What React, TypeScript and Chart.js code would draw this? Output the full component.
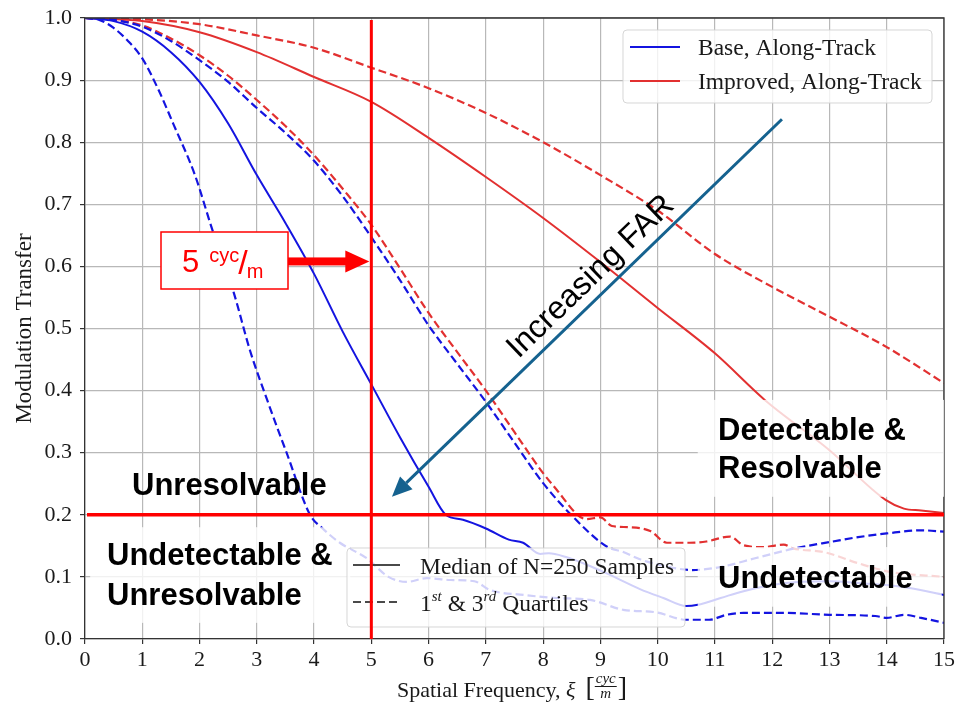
import React, { useEffect, useRef } from 'react';
import { Chart, registerables } from 'chart.js';

Chart.register(...registerables);

const SERIF = '"Liberation Serif", "Times New Roman", serif';
const SANS = '"Liberation Sans", Arial, sans-serif';

// Spatial frequency axis ticks
const freqTicks = [0, 1, 2, 3, 4, 5, 6, 7, 8, 9, 10, 11, 12, 13, 14, 15];

// Base sensor, along-track: median and quartiles
const baseMedianX = [0, 0.5, 1, 1.5, 2, 2.5, 3, 3.5, 4, 4.5, 5, 5.5, 6, 6.3, 6.6, 7, 7.4, 7.65, 7.95, 8.1, 8.4, 8.7, 9.1, 9.7, 10.1, 10.5, 10.7, 11.1, 11.5, 12, 12.5, 13, 13.5, 14, 14.4, 15];
const baseMedianY = [1.0, 0.995, 0.978, 0.945, 0.897, 0.83, 0.747, 0.67, 0.588, 0.495, 0.41, 0.325, 0.245, 0.2, 0.192, 0.178, 0.16, 0.155, 0.137, 0.138, 0.132, 0.122, 0.106, 0.08, 0.066, 0.053, 0.055, 0.066, 0.077, 0.087, 0.092, 0.093, 0.09, 0.087, 0.082, 0.071];

const baseQ1X = [0, 0.25, 0.5, 0.75, 1, 1.28, 1.54, 1.92, 2.22, 2.6, 2.88, 3.2, 3.52, 3.93, 4.15, 4.45, 4.92, 5.3, 5.62, 5.97, 6.38, 6.8, 7.07, 7.66, 8.24, 8.82, 9.4, 9.97, 10.5, 10.9, 11.2, 11.5, 12.2, 13, 13.8, 14, 14.3, 14.6, 15];
const baseQ1Y = [1.0, 0.997, 0.984, 0.963, 0.935, 0.885, 0.83, 0.747, 0.66, 0.557, 0.465, 0.38, 0.3, 0.2, 0.178, 0.155, 0.13, 0.1, 0.092, 0.098, 0.095, 0.093, 0.079, 0.071, 0.066, 0.063, 0.047, 0.043, 0.031, 0.031, 0.039, 0.042, 0.042, 0.039, 0.037, 0.034, 0.039, 0.034, 0.026];

const baseQ3X = [0, 0.5, 1, 1.5, 2, 2.5, 3, 3.5, 4, 4.5, 5, 5.5, 6, 6.5, 7, 7.5, 8, 8.52, 9.11, 9.4, 9.7, 10.1, 10.6, 11.1, 11.7, 12.4, 13.06, 13.5, 14, 14.6, 15];
const baseQ3Y = [1.0, 0.997, 0.986, 0.963, 0.932, 0.897, 0.855, 0.815, 0.77, 0.713, 0.647, 0.578, 0.505, 0.443, 0.382, 0.316, 0.251, 0.197, 0.149, 0.14, 0.128, 0.118, 0.111, 0.116, 0.13, 0.146, 0.157, 0.164, 0.17, 0.175, 0.173];

// Improved sensor, along-track: median and quartiles
const impMedianX = [0, 1, 2, 3, 4, 5, 6, 7, 8, 9, 10, 11, 11.87, 13, 13.98, 14.3, 14.6, 15];
const impMedianY = [1.0, 0.995, 0.977, 0.945, 0.905, 0.865, 0.807, 0.744, 0.678, 0.607, 0.533, 0.46, 0.385, 0.304, 0.224, 0.21, 0.207, 0.203];

const impQ1X = [0, 0.5, 1, 1.5, 2, 2.5, 3, 3.5, 4, 4.5, 5, 5.5, 6, 6.5, 7, 7.5, 8, 8.24, 8.6, 8.75, 9.0, 9.2, 9.5, 9.87, 10.16, 10.56, 10.85, 11.26, 11.5, 11.85, 12.2, 12.36, 12.9, 13.5, 14.06, 15];
const impQ1Y = [1.0, 0.997, 0.988, 0.967, 0.94, 0.907, 0.868, 0.826, 0.779, 0.725, 0.667, 0.597, 0.525, 0.462, 0.4, 0.333, 0.267, 0.24, 0.2, 0.193, 0.196, 0.182, 0.18, 0.174, 0.155, 0.155, 0.157, 0.165, 0.151, 0.148, 0.152, 0.146, 0.14, 0.122, 0.108, 0.1];

const impQ3X = [0, 1, 2, 3, 4, 5, 6, 7, 8, 9, 10, 11, 12, 13, 14, 15];
const impQ3Y = [1.0, 0.998, 0.99, 0.972, 0.952, 0.92, 0.887, 0.847, 0.8, 0.747, 0.69, 0.62, 0.567, 0.519, 0.47, 0.412];

// Thresholds marked on the plot
const cutoffFrequency = 5;
const detectionThreshold = 0.2;

const BLUE = '#1414e0';
const RED = '#e23030';
const PURE_RED = '#ff0000';
const FAR_BLUE = '#15628f';

const pts = (xs: number[], ys: number[]) => xs.map((x, i) => ({ x, y: ys[i] }));

type Run = { text: string; font: string; dy?: number };

function drawRuns(ctx: CanvasRenderingContext2D, x: number, y: number, runs: Run[]) {
  let cx = x;
  for (const r of runs) {
    ctx.font = r.font;
    ctx.fillText(r.text, cx, y + (r.dy || 0));
    cx += ctx.measureText(r.text).width;
  }
  return cx;
}

function roundRect(ctx: CanvasRenderingContext2D, x: number, y: number, w: number, h: number, r: number) {
  ctx.beginPath();
  ctx.moveTo(x + r, y);
  ctx.lineTo(x + w - r, y);
  ctx.arcTo(x + w, y, x + w, y + r, r);
  ctx.lineTo(x + w, y + h - r);
  ctx.arcTo(x + w, y + h, x + w - r, y + h, r);
  ctx.lineTo(x + r, y + h);
  ctx.arcTo(x, y + h, x, y + h - r, r);
  ctx.lineTo(x, y + r);
  ctx.arcTo(x, y, x + r, y, r);
  ctx.closePath();
}

const overlay = {
  id: 'overlay',
  afterDatasetsDraw(chart: any) {
    const { ctx, chartArea: a } = chart;
    const sx = chart.scales.x;
    const sy = chart.scales.y;
    const X = (v: number) => sx.getPixelForValue(v);
    const Y = (v: number) => sy.getPixelForValue(v);
    ctx.save();

    // top and right frame
    ctx.strokeStyle = '#333';
    ctx.lineWidth = 1.3;
    ctx.beginPath();
    ctx.moveTo(a.left, a.top);
    ctx.lineTo(a.right, a.top);
    ctx.lineTo(a.right, a.bottom);
    ctx.stroke();

    // translucent panels behind region names
    ctx.fillStyle = 'rgba(255,255,255,0.8)';
    const panels = [
      [0.09, 0.18, 4.63, 0.026],
      [10.7, 0.385, 15, 0.229],
      [10.7, 0.148, 14.96, 0.052],
    ];
    for (const [x0, y0, x1, y1] of panels) {
      ctx.fillRect(X(x0), Y(y0), X(x1) - X(x0), Y(y1) - Y(y0));
    }

    // line-style legend
    {
      const bx = 347, by = 548, bw = 338, bh = 79;
      roundRect(ctx, bx, by, bw, bh, 4);
      ctx.fillStyle = 'rgba(255,255,255,0.8)';
      ctx.fill();
      ctx.strokeStyle = 'rgba(210,210,210,0.9)';
      ctx.lineWidth = 1;
      ctx.stroke();
      ctx.strokeStyle = '#4a4a4a';
      ctx.lineWidth = 2;
      ctx.beginPath();
      ctx.moveTo(bx + 6, by + 17);
      ctx.lineTo(bx + 53, by + 17);
      ctx.stroke();
      ctx.setLineDash([8, 4]);
      ctx.beginPath();
      ctx.moveTo(bx + 6, by + 54);
      ctx.lineTo(bx + 53, by + 54);
      ctx.stroke();
      ctx.setLineDash([]);
      ctx.fillStyle = '#1a1a1a';
      ctx.textBaseline = 'alphabetic';
      ctx.textAlign = 'left';
      ctx.font = `23.5px ${SERIF}`;
      ctx.fillText('Median of N=250 Samples', bx + 73, by + 26);
      drawRuns(ctx, bx + 73, by + 63, [
        { text: '1', font: `23.5px ${SERIF}` },
        { text: 'st', font: `italic 15px ${SERIF}`, dy: -10 },
        { text: ' & 3', font: `23.5px ${SERIF}` },
        { text: 'rd', font: `italic 15px ${SERIF}`, dy: -10 },
        { text: ' Quartiles', font: `23.5px ${SERIF}` },
      ]);
    }

    // series legend
    {
      const bw = 309, bh = 73;
      const bx = a.right - 12 - bw, by = a.top + 12;
      roundRect(ctx, bx, by, bw, bh, 4);
      ctx.fillStyle = 'rgba(255,255,255,0.8)';
      ctx.fill();
      ctx.strokeStyle = 'rgba(210,210,210,0.9)';
      ctx.lineWidth = 1;
      ctx.stroke();
      const rows: [string, string, number][] = [
        ['Base, Along-Track', BLUE, by + 17],
        ['Improved, Along-Track', RED, by + 51],
      ];
      for (const [label, color, ly] of rows) {
        ctx.strokeStyle = color;
        ctx.lineWidth = 2;
        ctx.beginPath();
        ctx.moveTo(bx + 7, ly);
        ctx.lineTo(bx + 57, ly);
        ctx.stroke();
        ctx.fillStyle = '#1a1a1a';
        ctx.font = `23.5px ${SERIF}`;
        ctx.textBaseline = 'alphabetic';
        ctx.fillText(label, bx + 75, ly + 8);
      }
    }

    // detection threshold and cutoff frequency
    ctx.strokeStyle = PURE_RED;
    ctx.lineWidth = 3.5;
    ctx.beginPath();
    ctx.moveTo(a.left + 2, Y(detectionThreshold));
    ctx.lineTo(a.right, Y(detectionThreshold));
    ctx.stroke();
    ctx.lineWidth = 3;
    ctx.beginPath();
    ctx.moveTo(X(cutoffFrequency), a.top + 2);
    ctx.lineTo(X(cutoffFrequency), a.bottom);
    ctx.stroke();

    // cutoff callout box
    {
      const bx = 161, by = 232, bw = 127, bh = 57;
      ctx.fillStyle = '#fff';
      ctx.fillRect(bx, by, bw, bh);
      ctx.strokeStyle = PURE_RED;
      ctx.lineWidth = 1.5;
      ctx.strokeRect(bx, by, bw, bh);
      ctx.fillStyle = PURE_RED;
      ctx.textBaseline = 'alphabetic';
      let cx = drawRuns(ctx, bx + 21, by + 40, [{ text: '5', font: `31px ${SANS}` }]);
      cx = drawRuns(ctx, cx + 10, by + 30, [{ text: 'cyc', font: `20px ${SANS}` }]);
      cx = drawRuns(ctx, cx - 1, by + 42, [{ text: '/', font: `34px ${SANS}` }]);
      drawRuns(ctx, cx - 1, by + 46, [{ text: 'm', font: `20px ${SANS}` }]);

      const ay = Y(0.608);
      const tip = X(cutoffFrequency) - 2;
      ctx.fillRect(bx + bw, ay - 4, tip - 22 - (bx + bw), 8);
      ctx.beginPath();
      ctx.moveTo(tip - 24, ay - 11);
      ctx.lineTo(tip, ay);
      ctx.lineTo(tip - 24, ay + 11);
      ctx.closePath();
      ctx.fill();
    }

    // increasing FAR arrow
    {
      const x0 = X(12.17), y0 = Y(0.837);
      const x1 = X(5.36), y1 = Y(0.229);
      const ang = Math.atan2(y1 - y0, x1 - x0);
      const hl = 20, hw = 9;
      const bxp = x1 - hl * Math.cos(ang), byp = y1 - hl * Math.sin(ang);
      ctx.strokeStyle = FAR_BLUE;
      ctx.fillStyle = FAR_BLUE;
      ctx.lineWidth = 3;
      ctx.beginPath();
      ctx.moveTo(x0, y0);
      ctx.lineTo(bxp, byp);
      ctx.stroke();
      ctx.beginPath();
      ctx.moveTo(x1, y1);
      ctx.lineTo(bxp + hw * Math.sin(ang), byp - hw * Math.cos(ang));
      ctx.lineTo(bxp - hw * Math.sin(ang), byp + hw * Math.cos(ang));
      ctx.closePath();
      ctx.fill();

      ctx.save();
      ctx.translate(X(8.94), Y(0.573));
      ctx.rotate(Math.atan2(y0 - y1, x0 - x1));
      ctx.fillStyle = '#000';
      ctx.font = `32px ${SANS}`;
      ctx.textAlign = 'center';
      ctx.textBaseline = 'alphabetic';
      ctx.fillText('Increasing FAR', 0, 0);
      ctx.restore();
    }

    // region names
    ctx.fillStyle = '#000';
    ctx.textAlign = 'left';
    ctx.textBaseline = 'alphabetic';
    ctx.font = `bold 31px ${SANS}`;
    ctx.fillText('Unresolvable', 132, 495);
    ctx.fillText('Undetectable &', 107, 565);
    ctx.fillText('Unresolvable', 107, 605);
    ctx.fillText('Detectable &', 718, 440);
    ctx.fillText('Resolvable', 718, 478);
    ctx.fillText('Undetectable', 718, 588);

    // axis titles
    ctx.fillStyle = '#1a1a1a';
    ctx.save();
    ctx.translate(31, (a.top + a.bottom) / 2);
    ctx.rotate(-Math.PI / 2);
    ctx.font = `23px ${SERIF}`;
    ctx.textAlign = 'center';
    ctx.fillText('Modulation Transfer', 0, 0);
    ctx.restore();

    {
      ctx.textAlign = 'left';
      const base = 697;
      let cx = drawRuns(ctx, 397, base, [
        { text: 'Spatial Frequency, ', font: `22px ${SERIF}` },
        { text: 'ξ', font: `italic 22px ${SERIF}` },
      ]);
      cx = drawRuns(ctx, cx + 10, base - 1, [{ text: '[', font: `28px ${SERIF}` }]);
      ctx.font = `italic 15px ${SERIF}`;
      const fw = ctx.measureText('cyc').width;
      const fx = cx + 1;
      ctx.fillText('cyc', fx, base - 14);
      ctx.strokeStyle = '#1a1a1a';
      ctx.lineWidth = 1;
      ctx.beginPath();
      ctx.moveTo(fx - 1, base - 10.5);
      ctx.lineTo(fx + fw + 1, base - 10.5);
      ctx.stroke();
      const mw = ctx.measureText('m').width;
      ctx.fillText('m', fx + (fw - mw) / 2, base + 1);
      drawRuns(ctx, fx + fw + 2, base - 1, [{ text: ']', font: `28px ${SERIF}` }]);
    }

    ctx.restore();
  },
};

export default function App() {
  const ref = useRef<HTMLCanvasElement>(null);

  useEffect(() => {
    const canvas = ref.current;
    if (!canvas) return;
    const solid = (data: any, color: string) => ({
      data, borderColor: color, borderWidth: 2, pointRadius: 0, fill: false, cubicInterpolationMode: 'monotone',
    });
    const dashed = (data: any, color: string) => ({ ...solid(data, color), borderDash: [8, 4], borderWidth: 2.2 });

    const gridStyle = { color: '#b8b8b8', lineWidth: 1.2, tickColor: '#333', tickLength: 5, tickWidth: 1.2 };
    const tickFont = { family: SERIF, size: 22 };

    const chart = new Chart(canvas, {
      type: 'line',
      data: {
        datasets: [
          solid(pts(baseMedianX, baseMedianY), BLUE),
          dashed(pts(baseQ1X, baseQ1Y), BLUE),
          dashed(pts(baseQ3X, baseQ3Y), BLUE),
          solid(pts(impMedianX, impMedianY), RED),
          dashed(pts(impQ1X, impQ1Y), RED),
          dashed(pts(impQ3X, impQ3Y), RED),
        ] as any,
      },
      options: {
        responsive: false,
        animation: false,
        devicePixelRatio: 1,
        parsing: false,
        layout: { padding: { left: 0, top: 18, right: 11, bottom: 0 } },
        plugins: { legend: { display: false }, tooltip: { enabled: false } },
        scales: {
          x: {
            type: 'linear',
            min: freqTicks[0],
            max: freqTicks[freqTicks.length - 1],
            afterBuildTicks: (s: any) => { s.ticks = freqTicks.map((v) => ({ value: v })); },
            ticks: { color: '#1a1a1a', font: tickFont, padding: 3, maxRotation: 0, autoSkip: false },
            grid: gridStyle,
            border: { color: '#333', width: 1.3 },
            afterFit: (s: any) => {
              s.height = 67;
              s.paddingLeft = 0;
              s.paddingRight = 0;
            },
          },
          y: {
            type: 'linear',
            min: 0,
            max: 1,
            ticks: {
              stepSize: 0.1,
              color: '#1a1a1a',
              font: tickFont,
              padding: 8,
              callback: (v: any) => Number(v).toFixed(1),
            },
            grid: gridStyle,
            border: { color: '#333', width: 1.3 },
            afterFit: (s: any) => {
              s.width = 85;
              s.paddingTop = 0;
              s.paddingBottom = 0;
            },
          },
        },
      } as any,
      plugins: [overlay],
    });
    return () => chart.destroy();
  }, []);

  return (
    <div style={{ position: 'fixed', left: 0, top: 0, width: 955, height: 706, background: '#fff' }}>
      <canvas ref={ref} width={955} height={706} style={{ display: 'block', width: 955, height: 706 }} />
    </div>
  );
}
